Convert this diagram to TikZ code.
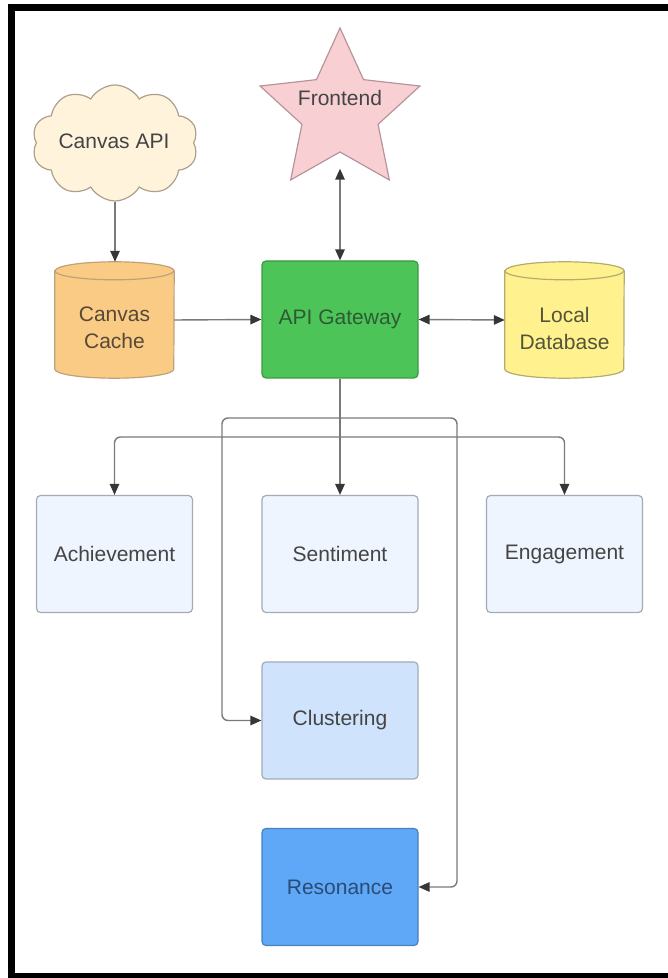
\documentclass[tikz,border=0pt]{standalone}
\usepackage{fontspec}
\setmainfont{Liberation Sans}
\usetikzlibrary{shapes.geometric,shapes.symbols,arrows.meta,backgrounds,calc}

\definecolor{linegray}{HTML}{7A7A7A}
\definecolor{tipgray}{HTML}{363636}
\definecolor{txtgray}{HTML}{444444}
\definecolor{cloudfill}{HTML}{FFF3DC}
\definecolor{cloudline}{HTML}{ABA08C}
\definecolor{starfill}{HTML}{F8D0D4}
\definecolor{starline}{HTML}{B8949A}
\definecolor{cachefill}{HTML}{FACB84}
\definecolor{cacheline}{HTML}{BFA27A}
\definecolor{cachetext}{HTML}{584838}
\definecolor{dbfill}{HTML}{FFF28E}
\definecolor{dbline}{HTML}{B3AC6C}
\definecolor{dbtext}{HTML}{54543A}
\definecolor{gwfill}{HTML}{4CC458}
\definecolor{gwline}{HTML}{3A9A45}
\definecolor{gwtext}{HTML}{2E5A34}
\definecolor{lightbox}{HTML}{EEF5FE}
\definecolor{boxline}{HTML}{A3ABB5}
\definecolor{clusterfill}{HTML}{CFE3FC}
\definecolor{resfill}{HTML}{5EA8F7}
\definecolor{resline}{HTML}{4A80BF}
\definecolor{restext}{HTML}{2B4B72}

\begin{document}
\begin{tikzpicture}[x=1pt,y=1pt,
  every node/.style={font=\fontsize{21}{27}\selectfont, text=txtgray, align=center},
  tip/.tip={Triangle[length=11pt,width=9.5pt,color=tipgray]},
  conn/.style={draw=linegray, line width=1.4pt, -tip},
  dconn/.style={draw=linegray, line width=1.4pt, tip-tip},
  plain/.style={draw=linegray, line width=1.4pt},
  box/.style={rectangle, rounded corners=4pt, minimum width=156pt,
    minimum height=117pt, line width=1.2pt, inner sep=0pt},
  drum/.style={rectangle, minimum width=119pt, minimum height=116pt, inner sep=0pt}
]
\useasboundingbox (0,0) rectangle (668,978);
% outer frame
\draw[line width=7pt] (11.5,970.5) rectangle (671,1.5);

% sources and frontend
\node[cloud, cloud puffs=10, cloud puff arc=120, aspect=1.4,
  minimum width=166pt, minimum height=116pt, inner sep=0pt,
  fill=cloudfill, draw=cloudline, line width=1.2pt] (canvasapi) at (115,835) {};
\node (canvasapilabel) at (114,837) {Canvas API};

\node[star, star points=5, star point ratio=2.1, minimum size=168pt, inner sep=0pt,
  fill=starfill, draw=starline, line width=1.2pt] (frontend) at (340,866) {};
\node (frontendlabel) at (340,880) {Frontend};

% storage and gateway
\node[drum] (cache) at (114.5,658) {};
\node[text=cachetext] (cachelabel) at (114.5,650) {Canvas\\Cache};
\node[box, fill=gwfill, draw=gwline, text=gwtext] (gateway) at (340,658.5) {API Gateway};
\node[drum] (localdb) at (564.5,658) {};
\node[text=dbtext] (localdblabel) at (564.5,650) {Local\\Database};

\begin{scope}[on background layer]
  \foreach \n/\f/\d in {cache/cachefill/cacheline, localdb/dbfill/dbline}{
    \filldraw[fill=\f, draw=\d, line width=1.2pt]
      ($(\n.north west)+(0,-9)$) -- ($(\n.south west)+(0,9)$)
      arc[start angle=180, end angle=360, x radius=59.5, y radius=9]
      -- ($(\n.north east)+(0,-9)$)
      arc[start angle=0, end angle=180, x radius=59.5, y radius=9] -- cycle;
    \draw[draw=\d, line width=1.2pt] ($(\n.north west)+(0,-9)$)
      arc[start angle=180, end angle=360, x radius=59.5, y radius=9];
  }
\end{scope}

% analysis modules
\node[box, fill=lightbox, draw=boxline] (achievement) at (114.5,424) {Achievement};
\node[box, fill=lightbox, draw=boxline] (sentiment) at (340,424) {Sentiment};
\node[box, fill=lightbox, draw=boxline] (engagement) at (564.5,424) {Engagement};
\node[box, fill=clusterfill, draw=boxline] (clustering) at (340,257.5) {Clustering};
\node[box, fill=resfill, draw=resline, text=restext] (resonance) at (340,91) {Resonance};

% connectors
\draw[conn] (canvasapi.south) -- (canvasapi.south |- cache.north);
\draw[conn] (cache.east) -- (gateway.west);
\draw[dconn] (gateway.east) -- (localdb.west);
\draw[dconn, shorten >=16pt] (gateway.north) -- (frontend.south);

\coordinate (hub) at (340,560);
\coordinate (hubb) at (340,541);
\coordinate (busL) at (222,560);
\coordinate (busR) at (457,560);
\coordinate (busbL) at (114.5,541);
\coordinate (busbR) at (564.5,541);

\draw[plain] (gateway.south) -- (hubb);
\draw[conn, rounded corners=6pt] (hub) -- (busL) |- (clustering.west);
\draw[conn, rounded corners=6pt] (hub) -- (busR) |- (resonance.east);
\draw[conn, rounded corners=6pt] (hubb) -- (busbL) -- (achievement.north);
\draw[conn, rounded corners=6pt] (hubb) -- (busbR) -- (engagement.north);
\draw[conn] (hubb) -- (sentiment.north);
\end{tikzpicture}
\end{document}
